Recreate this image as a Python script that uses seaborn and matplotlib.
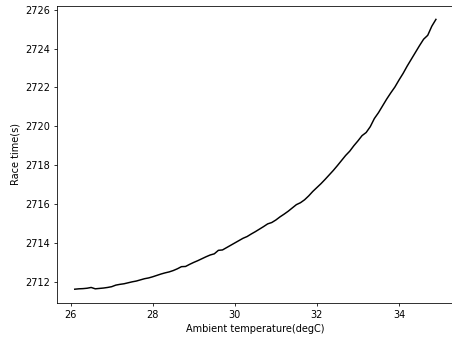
import matplotlib
matplotlib.use("Agg")
import matplotlib.pyplot as plt
import seaborn as sns
import pandas as pd

# Ambient temperature (degC) and predicted race time (s)
temperature = [
    26.1, 26.2, 26.3, 26.4, 26.5, 26.6, 26.7, 26.8, 26.9, 27.0,
    27.1, 27.2, 27.3, 27.4, 27.5, 27.6, 27.7, 27.8, 27.9, 28.0,
    28.1, 28.2, 28.3, 28.4, 28.5, 28.6, 28.7, 28.8, 28.9, 29.0,
    29.1, 29.2, 29.3, 29.4, 29.5, 29.6, 29.7, 29.8, 29.9, 30.0,
    30.1, 30.2, 30.3, 30.4, 30.5, 30.6, 30.7, 30.8, 30.9, 31.0,
    31.1, 31.2, 31.3, 31.4, 31.5, 31.6, 31.7, 31.8, 31.9, 32.0,
    32.1, 32.2, 32.3, 32.4, 32.5, 32.6, 32.7, 32.8, 32.9, 33.0,
    33.1, 33.2, 33.3, 33.4, 33.5, 33.6, 33.7, 33.8, 33.9, 34.0,
    34.1, 34.2, 34.3, 34.4, 34.5, 34.6, 34.7, 34.8, 34.9,
]
race_time = [
    2711.62, 2711.64, 2711.65, 2711.67, 2711.71, 2711.64, 2711.66, 2711.68, 2711.71, 2711.75,
    2711.83, 2711.87, 2711.90, 2711.95, 2712.00, 2712.04, 2712.10, 2712.16, 2712.20, 2712.26,
    2712.33, 2712.40, 2712.46, 2712.51, 2712.58, 2712.67, 2712.78, 2712.79, 2712.90, 2713.00,
    2713.09, 2713.19, 2713.29, 2713.38, 2713.44, 2713.62, 2713.64, 2713.76, 2713.88, 2714.00,
    2714.12, 2714.24, 2714.33, 2714.46, 2714.58, 2714.71, 2714.84, 2714.98, 2715.05, 2715.18,
    2715.34, 2715.48, 2715.63, 2715.80, 2715.97, 2716.07, 2716.22, 2716.42, 2716.65, 2716.85,
    2717.05, 2717.27, 2717.50, 2717.73, 2717.98, 2718.24, 2718.50, 2718.72, 2719.00, 2719.25,
    2719.52, 2719.68, 2719.98, 2720.40, 2720.70, 2721.05, 2721.40, 2721.72, 2722.02, 2722.38,
    2722.72, 2723.10, 2723.45, 2723.80, 2724.15, 2724.48, 2724.68, 2725.15, 2725.50,
]

df = pd.DataFrame({"temp": temperature, "time": race_time})

fig = plt.figure(figsize=(452 / 70.7, 340 / 70.7), dpi=70.7)
ax = fig.add_axes([0.1254, 0.1097, 0.879, 0.873])
sns.lineplot(data=df, x="temp", y="time", color="black", linewidth=1.5, ax=ax)

ax.set_xticks([26, 28, 30, 32, 34])
ax.set_yticks(list(range(2712, 2727, 2)))
ax.set_xlabel("Ambient temperature(degC)")
ax.set_ylabel("Race time(s)")

fig.savefig("out.png", dpi=70.7)
